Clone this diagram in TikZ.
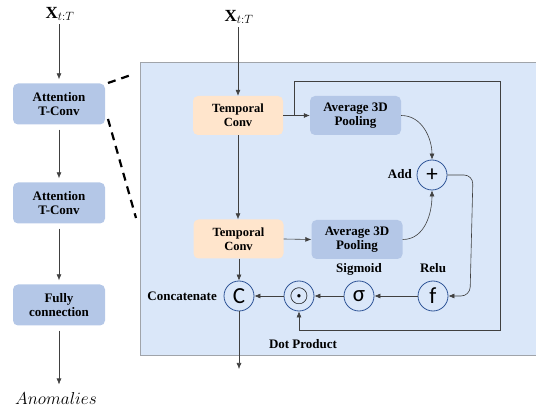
\documentclass[tikz,border=0pt]{standalone}
\usepackage{fontspec}
\setmainfont{Liberation Serif}
\newfontfamily\symfont{Carlito}
\usetikzlibrary{arrows.meta}
\definecolor{panelfill}{HTML}{DAE7F9}
\definecolor{panelline}{HTML}{A0A4AA}
\definecolor{boxblue}{HTML}{B4C7E7}
\definecolor{peach}{HTML}{FFE5CC}
\definecolor{ringblue}{HTML}{2F5597}
\definecolor{wire}{HTML}{404040}
\tikzset{
  blk/.style={rounded corners=5pt, minimum width=92pt, minimum height=41pt, align=center,
    font=\fontsize{13}{14.5}\selectfont\bfseries, inner sep=1pt},
  leftbox/.style={blk, fill=boxblue},
  poolbox/.style={blk, fill=boxblue, minimum width=91pt, minimum height=39pt},
  tconvbox/.style={blk, fill=peach, minimum width=90pt, minimum height=39pt, font=\fontsize{12.5}{14}\selectfont\bfseries},
  opc/.style={circle, draw=ringblue, line width=0.8pt, minimum size=30pt, inner sep=0pt,
    font=\symfont\fontsize{23}{23}\selectfont},
  lbl/.style={font=\fontsize{13}{14.5}\selectfont\bfseries, inner sep=1pt},
  arr/.style={draw=wire, line width=0.6pt, -{Latex[length=6pt,width=5pt]}},
  ln/.style={draw=wire, line width=0.6pt},
  zoomdash/.style={line width=2.2pt, dash pattern=on 8pt off 6pt}
}
\begin{document}
\begin{tikzpicture}[x=1pt,y=-1pt]
\useasboundingbox (0,0) rectangle (536,414);
% panel
\draw[fill=panelfill, draw=panelline, line width=0.8pt] (140.5,62) rectangle (536,355);
% left column
\node (xl) at (60,14) {\fontsize{17}{17}\selectfont$\mathbf{X}_{t:T}$};
\node[leftbox] (a1) at (59,104) {Attention\\T-Conv};
\node[leftbox] (a2) at (59,203) {Attention\\T-Conv};
\node[leftbox] (fc) at (59,305) {Fully\\connection};
\node (an) at (56,398) {\fontsize{17}{17}\selectfont$Anomalies$};
\draw[arr] (a1.north |- xl.south) -- ([yshift=4pt]a1.north);
\draw[arr] ([yshift=-5pt]a1.south) -- ([yshift=4pt]a2.north);
\draw[arr] ([yshift=-5pt]a2.south) -- ([yshift=4pt]fc.north);
\draw[arr] ([yshift=-5pt]fc.south) -- ([yshift=4pt]fc.south |- an.north);
% dashed zoom lines
\coordinate (d1a) at (108,83); \coordinate (d1b) at (131,75);
\coordinate (d2a) at (108,119); \coordinate (d2b) at (136,218);
\draw[zoomdash] (d1a) -- (d1b);
\draw[zoomdash] (d2a) -- (d2b);
% inner diagram
\node (xi) at (239,17) {\fontsize{17}{17}\selectfont$\mathbf{X}_{t:T}$};
\node[tconvbox] (tc1) at (238,115.5) {Temporal\\Conv};
\node[tconvbox] (tc2) at (238.5,239) {Temporal\\Conv};
\node[poolbox] (ap1) at (355.5,115.5) {Average 3D\\Pooling};
\node[poolbox] (ap2) at (357,239.5) {Average 3D\\Pooling};
\node[opc] (add) at (432,175) {+};
\node[lbl, anchor=east] at (413,174) {Add};
\node[opc] (cc) at (239,296) {C};
\node[opc] (dot) at (299,296) {};
\node at (dot) {\fontsize{24}{24}\selectfont$\odot$};
\node[opc] (sg) at (359,296) {σ};
\node[opc] (fr) at (433,296) {f};
\node[lbl] at (359,269) {Sigmoid};
\node[lbl] at (433,268) {Relu};
\node[lbl, anchor=east] at (218,296) {Concatenate};
\node[lbl] at (303,344) {Dot Product};
\coordinate (out) at (239,369);
\coordinate (br) at (294,116);
\coordinate (sk1) at (500,81);
\coordinate (sk2) at (500,330);
% connectors
\draw[arr] (tc1.north |- xi.south) -- (tc1.north);
\draw[arr] (tc1.east) -- (ap1.west);
\draw[arr] (tc1.south) -- (tc1.south |- tc2.north);
\draw[arr] (tc2.east) -- (ap2.west);
\draw[arr] (tc2.south -| cc.north) -- (cc.north);
\draw[arr] (ap1.east) to[out=0,in=90] (add.north);
\draw[arr] (ap2.east) to[out=0,in=-90] (add.south);
\draw[arr, rounded corners=9pt] (add.east) -- (473,175) -- (470,296) -- (fr.east);
\draw[arr] (br) |- (sk1) -- (sk2) -| (dot.south);
\draw[arr] (fr.west) -- (sg.east);
\draw[arr] (sg.west) -- (dot.east);
\draw[arr] (dot.west) -- (cc.east);
\draw[arr] (cc.south) -- (out);
\end{tikzpicture}
\end{document}
